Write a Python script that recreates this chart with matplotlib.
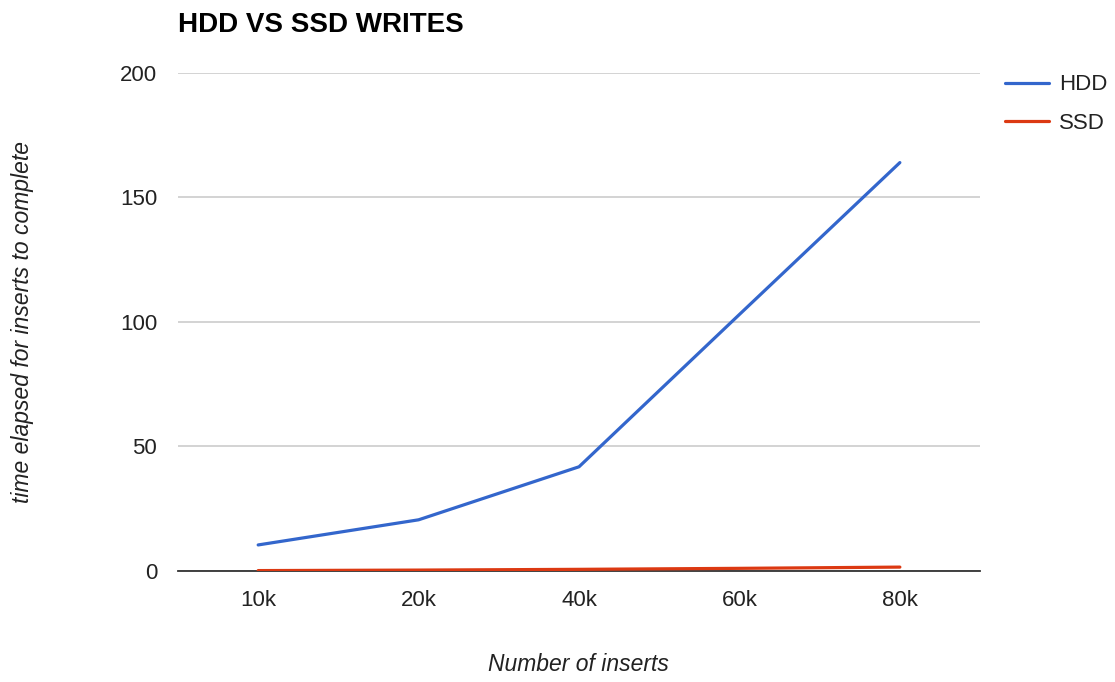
import numpy as np
import matplotlib.pyplot as plt

plt.rcParams['font.family'] = ['Liberation Sans', 'DejaVu Sans']

inserts = ['10k', '20k', '40k', '60k', '80k']
hdd = [10.4, 20.5, 41.8, 103.0, 164.0]
ssd = [0.1, 0.3, 0.6, 1.0, 1.5]

blue = '#3366cc'
red = '#dc3912'

fig = plt.figure(figsize=(11.15, 6.82), dpi=100)
ax = fig.add_axes([0.1596, 0.163, 0.7194, 0.730])

x = np.arange(len(inserts))
ax.plot(x, hdd, color=blue, lw=2.3, label='HDD', solid_capstyle='round', zorder=3)
ax.plot(x, ssd, color=red, lw=2.3, label='SSD', solid_capstyle='round', zorder=3)

ax.set_xlim(-0.5, len(inserts) - 0.5)
ax.set_ylim(0, 200)
ax.set_yticks([0, 50, 100, 150, 200])
ax.set_xticks(x)
ax.set_xticklabels(inserts)

ax.grid(axis='y', color='#cccccc', lw=1.2)
ax.set_axisbelow(True)
for side in ['top', 'right', 'left']:
    ax.spines[side].set_visible(False)
ax.spines['bottom'].set_color('#333333')
ax.spines['bottom'].set_linewidth(1.3)
ax.spines['bottom'].set_zorder(2)
ax.tick_params(length=0, labelsize=16, labelcolor='#222222')
ax.tick_params(axis='x', pad=14)
ax.tick_params(axis='y', pad=15)

# axis titles placed on the figure so they sit where the layout wants them
fig.text(0.519, 0.016, 'Number of inserts', fontsize=16.5, style='italic',
         color='#222222', ha='center', va='baseline')
fig.text(0.02, 0.528, 'time elapsed for inserts to complete', rotation=90,
         fontsize=16.5, style='italic', color='#222222', ha='center', va='center')

fig.text(0.1596, 0.953, 'HDD VS SSD WRITES', fontsize=20, fontweight='bold',
         color='#000000', ha='left', va='baseline')

fig.legend(loc='upper left', bbox_to_anchor=(0.901, 0.891), frameon=False,
           borderpad=0, borderaxespad=0,
           fontsize=16, handlelength=2.0, handletextpad=0.45, labelspacing=0.8,
           labelcolor='#222222')

fig.savefig('out.png', dpi=100)
